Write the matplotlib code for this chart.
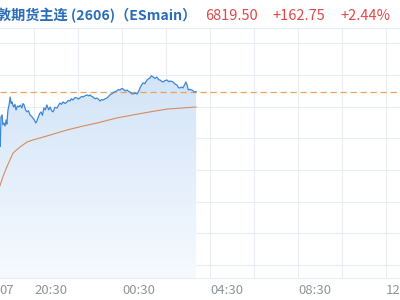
import numpy as np
import matplotlib
matplotlib.use('Agg')
import matplotlib.pyplot as plt

# 时间轴: 从 18:00 起的分钟数
price_min = [57, 58, 60, 63, 65, 68, 71, 74, 76, 79, 82, 85, 88, 90, 93, 95, 98, 101, 105, 109,
             113, 117, 120, 123, 127, 131, 135, 139, 143, 147, 151, 155, 158, 161, 165, 169,
             173, 177, 181, 185, 190, 194, 198, 202, 207, 213, 217, 221, 225, 229, 235, 240,
             244, 248, 252, 256, 262, 267, 271, 275, 280, 284, 290, 295, 299, 303, 307, 311,
             316, 322, 326, 330, 334, 338, 344, 349, 353, 357, 361, 365, 370, 376, 380, 385,
             389, 393, 398, 404, 408, 412, 416, 420, 425, 431, 435, 439, 443, 447, 452, 458,
             462, 466, 470, 475, 480, 485, 490, 494, 498, 502, 507, 513, 517, 521, 525, 529,
             535, 540, 544, 548, 552, 556, 560, 564, 567, 571, 575, 580, 584, 588, 592]
price = [6789.0, 6785.0, 6803.5, 6804.8, 6798.5, 6799.7, 6797.8, 6801.6, 6799.0, 6807.9,
         6811.0, 6816.1, 6812.0, 6813.0, 6810.5, 6809.8, 6811.5, 6807.9, 6810.5, 6809.8,
         6811.0, 6809.2, 6812.0, 6811.1, 6808.0, 6806.7, 6807.5, 6804.8, 6804.0, 6802.9,
         6801.5, 6799.7, 6801.0, 6802.9, 6805.5, 6806.7, 6804.5, 6809.2, 6808.0, 6811.1,
         6808.0, 6809.8, 6807.5, 6806.7, 6809.5, 6809.2, 6811.0, 6812.3, 6811.5, 6813.0,
         6812.0, 6813.0, 6814.0, 6813.6, 6815.0, 6814.2, 6815.8, 6815.5, 6814.8, 6815.5,
         6816.5, 6816.1, 6817.0, 6817.4, 6816.8, 6817.4, 6816.5, 6816.1, 6815.0, 6815.5,
         6814.5, 6813.6, 6814.5, 6814.2, 6815.0, 6815.5, 6816.5, 6817.4, 6818.0, 6818.6,
         6819.5, 6819.9, 6820.8, 6820.5, 6821.5, 6821.2, 6820.0, 6820.5, 6819.5, 6819.3,
         6818.2, 6818.0, 6818.6, 6818.0, 6819.5, 6821.8, 6823.5, 6825.0, 6824.5, 6826.8,
         6827.5, 6828.1, 6829.5, 6828.7, 6827.8, 6828.7, 6827.0, 6826.8, 6826.0, 6825.6,
         6826.5, 6826.8, 6825.8, 6826.2, 6826.0, 6825.6, 6824.2, 6823.7, 6822.0, 6821.8,
         6822.4, 6821.8, 6823.5, 6825.6, 6824.0, 6820.5, 6821.0, 6820.5, 6820.0, 6819.2,
         6819.5]

avg_min = [57, 65, 76, 93, 112, 131, 147, 194, 240, 284, 322, 376, 420, 466, 513, 556, 592]
avg_price = [6760.0, 6765.6, 6772.0, 6780.8, 6784.6, 6787.7, 6789.0, 6792.1, 6795.3,
             6797.8, 6799.7, 6802.9, 6804.8, 6806.7, 6808.5, 6809.2, 6809.8]

last_price = 6819.50
x_grid = [150, 270, 390, 510, 630, 750, 870, 990, 1110]
y_grid = [6710, 6730, 6750, 6770, 6790, 6810, 6830, 6850]
tick_pos = [150, 390, 630, 870, 1110]
tick_labels = ['20:30', '00:30', '04:30', '08:30', '12:30']

XMIN, XMAX = 57.3, 1148
YMIN, YMAX = 6701.9, 6859.65
grid_c = '#e8edf3'
cjk = ['Noto Sans CJK SC', 'DejaVu Sans']

fig = plt.figure(figsize=(4, 3), dpi=100)
fig.set_facecolor('white')
ax = fig.add_axes([0, 1 - 278 / 300, 1, 250 / 300])
ax.set_xlim(XMIN, XMAX)
ax.set_ylim(YMIN, YMAX)

for xv in x_grid:
    ax.axvline(xv, color=grid_c, lw=0.8, zorder=0)
for yv in y_grid:
    ax.axhline(yv, color=grid_c, lw=0.8, zorder=0)

# 渐变填充
poly = ax.fill_between(price_min, price, YMIN, color='none', lw=0)
grad = np.linspace(0, 1, 256).reshape(-1, 1)
c_top = np.array([210, 228, 248]) / 255
c_bot = np.array([246, 250, 254]) / 255
img = c_top[None, None, :] * (1 - grad[:, :, None]) + c_bot[None, None, :] * grad[:, :, None]
im = ax.imshow(img, extent=[price_min[0], price_min[-1], YMIN, max(price)],
               aspect='auto', origin='upper', zorder=1)
path = poly.get_paths()[0]
im.set_clip_path(path, transform=ax.transData)

ax.plot(price_min, price, color='#3d87d6', lw=0.9, zorder=3)
ax.plot(avg_min, avg_price, color='#d98a5c', lw=0.8, zorder=3)
ax.axhline(last_price, color='#eba260', lw=0.9, ls=(0, (5, 3)), zorder=2)

ax.set_xticks([])
ax.set_yticks([])
for sp in ax.spines.values():
    sp.set_visible(False)
ax.spines['top'].set_visible(True)
ax.spines['top'].set_color(grid_c)
ax.spines['bottom'].set_visible(True)
ax.spines['bottom'].set_color(grid_c)

for pos, lab in zip(tick_pos, tick_labels):
    ax.text(pos, -0.05, lab, transform=ax.get_xaxis_transform(), ha='left', va='center',
            fontsize=9.5, color='#8f949c', family=cjk)
ax.text(14 / 400, -12 / 250, '07', transform=ax.transAxes, ha='right', va='center',
        fontsize=9.5, color='#8f949c', family=cjk)

ty = 1 - 16 / 300
fig.text(-3 / 400, ty, '敦期货主连 (2606)（ESmain）', ha='left', va='center',
         fontsize=10.2, color='#2a6db8', family=cjk, fontweight='bold')
fig.text(205 / 400, ty, '6819.50', ha='left', va='center', fontsize=10.5,
         color='#e04848', family=cjk, fontweight='medium')
fig.text(272 / 400, ty, '+162.75', ha='left', va='center', fontsize=10.5,
         color='#e04848', family=cjk, fontweight='medium')
fig.text(340 / 400, ty, '+2.44%', ha='left', va='center', fontsize=10.5,
         color='#e04848', family=cjk, fontweight='medium')

fig.savefig('out.png', dpi=100)
plt.close(fig)
